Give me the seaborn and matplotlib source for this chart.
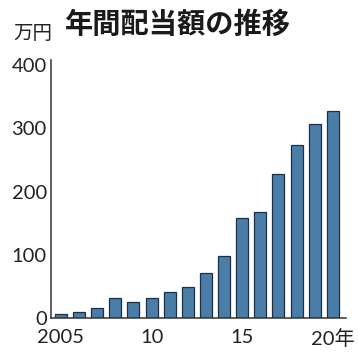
import matplotlib
matplotlib.use("Agg")
import matplotlib.pyplot as plt
import seaborn as sns
import pandas as pd

years = list(range(2005, 2021))
dividends = [6, 9, 16, 32, 26, 31, 41, 49, 71, 98, 158, 168, 227, 273, 306, 328]
tick_pos = [0, 5, 10, 15]
tick_labels = ["2005", "10", "15", "20年"]
y_ticks = [0, 100, 200, 300, 400]

sns.set_style("white")
plt.rcParams["font.family"] = ["Noto Sans CJK JP", "DejaVu Sans"]

df = pd.DataFrame({"year": [str(y) for y in years], "value": dividends})

fig = plt.figure(figsize=(3.59, 3.59), dpi=100)
ax = fig.add_axes([0.142, 0.114, 0.822, 0.719])

sns.barplot(data=df, x="year", y="value", color="#4a7ea8", saturation=1,
            edgecolor="#1c2f45", linewidth=0.9, width=0.66, ax=ax)

ax.set_xlim(-0.55, 15.73)
ax.set_ylim(0, 408)
ax.set_yticks(y_ticks)
ax.set_xticks(tick_pos)
ax.set_xticklabels(tick_labels)
ax.set_xlabel("")
ax.set_ylabel("")

for side in ["top", "right"]:
    ax.spines[side].set_visible(False)
for side in ["left", "bottom"]:
    ax.spines[side].set_color("#333333")
    ax.spines[side].set_linewidth(1.1)

ax.tick_params(axis="y", direction="in", length=4, width=1, color="#333333",
               labelsize=14.5, pad=3, labelcolor="#222222")
ax.tick_params(axis="x", length=0, labelsize=14.5, pad=8, labelcolor="#222222")

# Lato for the digits (tighter line box), CJK fallback for 年
for lbl in ax.get_xticklabels() + ax.get_yticklabels():
    lbl.set_fontfamily(["Lato", "Noto Sans CJK JP"])

fig.text(0.036, 0.908, "万円", fontsize=14, color="#222222", va="center", ha="left")
fig.text(0.181, 0.93, "年間配当額の推移", fontsize=20.3, fontweight="bold",
         color="#1a1a1a", va="center", ha="left")

fig.savefig("out.png", dpi=100)
